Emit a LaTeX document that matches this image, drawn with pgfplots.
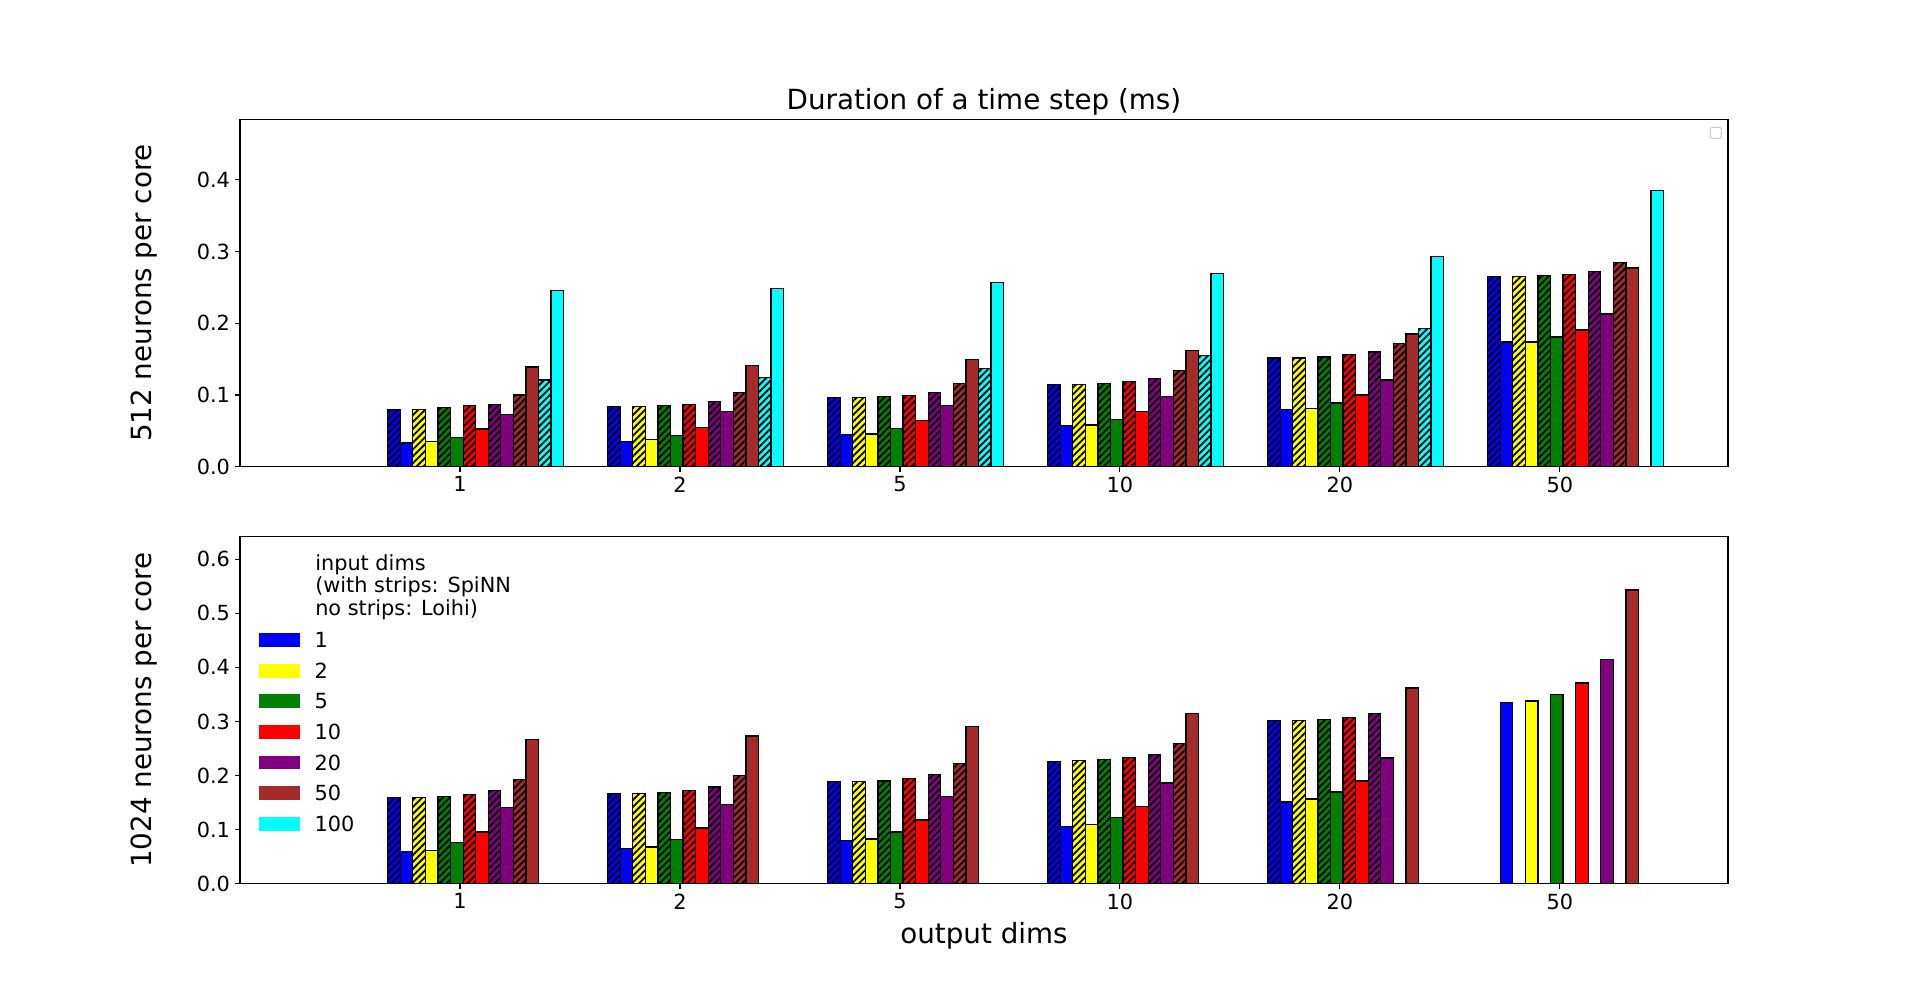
\documentclass[border=0pt]{standalone}
\usepackage{fontspec}
\setmainfont{DejaVu Sans}
\usepackage{pgfplots}
\pgfplotsset{compat=1.18}
\usepackage{pgfplotstable}
\usetikzlibrary{patterns.meta}

\definecolor{cblue}{rgb}{0,0,1}
\definecolor{cyellow}{rgb}{1,1,0}
\definecolor{cgreen}{HTML}{008000}
\definecolor{cred}{rgb}{1,0,0}
\definecolor{cpurple}{HTML}{800080}
\definecolor{cbrown}{HTML}{A52A2A}
\definecolor{ccyan}{rgb}{0,1,1}

\pgfplotstableread{
x h1 s1 h2 s2 h5 s5 h10 s10 h20 s20 h50 s50 h100 s100
0 0.080 0.033 0.080 0.035 0.082 0.041 0.085 0.0525 0.087 0.073 0.100 0.139 0.121 0.246
1 0.084 0.0353 0.084 0.038 0.0855 0.0437 0.0869 0.0548 0.091 0.077 0.1036 0.141 0.1245 0.2485
2 0.096 0.0446 0.096 0.0455 0.098 0.053 0.0994 0.064 0.103 0.085 0.116 0.149 0.137 0.257
3 0.1147 0.057 0.1147 0.058 0.116 0.0655 0.1185 0.0767 0.123 0.0976 0.134 0.1617 0.155 0.2695
4 0.1515 0.080 0.1515 0.081 0.153 0.0887 0.156 0.0999 0.160 0.1208 0.1714 0.185 0.1923 0.2927
5 0.2648 0.1737 0.2648 0.1737 0.266 0.1807 0.2676 0.1905 0.2718 0.2128 0.2843 0.2769 nan 0.3847
}\topdata

\pgfplotstableread{
x h1 s1 h2 s2 h5 s5 h10 s10 h20 s20 h50 s50
0 0.159 0.059 0.159 0.062 0.161 0.0758 0.1645 0.0955 0.172 0.1405 0.192 0.267
1 0.1663 0.0647 0.1663 0.0678 0.168 0.0813 0.172 0.1029 0.179 0.146 0.1996 0.273
2 0.1885 0.0795 0.1885 0.0825 0.190 0.0955 0.1947 0.118 0.2014 0.1608 0.2218 0.290
3 0.2255 0.1053 0.228 0.109 0.229 0.122 0.2329 0.1423 0.2384 0.186 0.2587 0.314
4 0.3012 0.151 0.3012 0.1565 0.303 0.1694 0.3068 0.1897 0.3148 0.2322 nan 0.3616
5 nan 0.3345 nan 0.3376 nan 0.3493 nan 0.3709 nan 0.414 nan 0.5427
}\botdata

\pgfplotsset{
  hbar/.style={ybar, bar width=0.0571429, bar shift=0pt, draw=black, line width=0.9pt, fill=#1,
    postaction={pattern={Lines[angle=45,distance=3.5pt,line width=1.3pt]}, pattern color=black}},
  sbar/.style={ybar, bar width=0.0571429, bar shift=0pt, draw=black, line width=0.9pt, fill=#1},
  sw/.style={fill=#1, draw=none, legend image code/.code={\fill[##1] (0pt,-5pt) rectangle (29.5pt,5pt); \path (40.1pt,0pt);}},
  common/.style={
    scale only axis, width=1071.36pt, height=250.24pt,
    xmin=-1, xmax=5.764, ymin=0,
    xtick={0,1,2,3,4,5}, xticklabels={1,2,5,10,20,50},
    tick align=outside, xtick pos=bottom, ytick pos=left,
    major tick length=3.5pt,
    every tick/.style={black, line width=0.8pt},
    axis line style={line width=0.8pt},
    tick label style={font=\fontsize{15}{18}\selectfont},
    xticklabel style={anchor=north, inner sep=0pt, yshift=-3.5pt},
    yticklabel style={anchor=east, inner sep=0pt, xshift=-3.5pt},
    label style={font=\fontsize{20}{24}\selectfont},
    ylabel style={at={(axis description cs:-0.05918,0.5)}, anchor=base},
  },
}

\newcommand{\hatchbar}[4]{\addplot[hbar=#3, forget plot] table[x expr=\thisrow{x}+#4, y=#2] {#1};}
\newcommand{\solidbar}[4]{\addplot[sbar=#3, forget plot] table[x expr=\thisrow{x}+#4, y=#2] {#1};}

\begin{document}
\begin{tikzpicture}
\path[use as bounding box] (0,0) rectangle (1382.4pt,714.96pt);

\begin{axis}[common,
  at={(172.8pt,378.93pt)}, anchor=south west,
  ymax=0.4844,
  ytick={0,0.1,0.2,0.3,0.4}, yticklabels={0.0,0.1,0.2,0.3,0.4},
  ylabel={512 neurons per core},
  title={Duration of a time step (ms)},
  title style={at={(axis description cs:0.5,1)}, anchor=base, yshift=1.2pt, font=\fontsize{20}{24}\selectfont},
]
\hatchbar{\topdata}{h1}{cblue}{-0.3}
\solidbar{\topdata}{s1}{cblue}{-0.2428571}
\hatchbar{\topdata}{h2}{cyellow}{-0.1857143}
\solidbar{\topdata}{s2}{cyellow}{-0.1285714}
\hatchbar{\topdata}{h5}{cgreen}{-0.0714286}
\solidbar{\topdata}{s5}{cgreen}{-0.0142857}
\hatchbar{\topdata}{h10}{cred}{0.0428571}
\solidbar{\topdata}{s10}{cred}{0.1}
\hatchbar{\topdata}{h20}{cpurple}{0.1571429}
\solidbar{\topdata}{s20}{cpurple}{0.2142857}
\hatchbar{\topdata}{h50}{cbrown}{0.2714286}
\solidbar{\topdata}{s50}{cbrown}{0.3285714}
\hatchbar{\topdata}{h100}{ccyan}{0.3857143}
\solidbar{\topdata}{s100}{ccyan}{0.4428571}
\node[draw=black!20, fill=white, rounded corners=1.5pt, minimum size=8pt, inner sep=0pt, line width=0.8pt, anchor=north east] at (axis description cs:0.996,0.978) {};
\end{axis}

\begin{axis}[common,
  at={(172.8pt,78.65pt)}, anchor=south west,
  ymax=0.6423,
  ytick={0,0.1,0.2,0.3,0.4,0.5,0.6}, yticklabels={0.0,0.1,0.2,0.3,0.4,0.5,0.6},
  ylabel={1024 neurons per core},
  xlabel={output dims},
  xlabel style={at={(axis description cs:0.5,0)}, anchor=base, yshift=-43pt},
  legend style={at={(axis description cs:0.01277,0.7223)}, anchor=north west, draw=none, fill=none,
    font=\fontsize{15}{18}\selectfont, inner sep=0pt, outer sep=0pt, row sep=11.1pt, column sep=0pt,
    nodes={inner sep=0pt, text height=10.9pt, text depth=0pt}},
  legend cell align=left,
]
\hatchbar{\botdata}{h1}{cblue}{-0.3}
\solidbar{\botdata}{s1}{cblue}{-0.2428571}
\hatchbar{\botdata}{h2}{cyellow}{-0.1857143}
\solidbar{\botdata}{s2}{cyellow}{-0.1285714}
\hatchbar{\botdata}{h5}{cgreen}{-0.0714286}
\solidbar{\botdata}{s5}{cgreen}{-0.0142857}
\hatchbar{\botdata}{h10}{cred}{0.0428571}
\solidbar{\botdata}{s10}{cred}{0.1}
\hatchbar{\botdata}{h20}{cpurple}{0.1571429}
\solidbar{\botdata}{s20}{cpurple}{0.2142857}
\hatchbar{\botdata}{h50}{cbrown}{0.2714286}
\solidbar{\botdata}{s50}{cbrown}{0.3285714}
\addlegendimage{sw=cblue}\addlegendentry{1}
\addlegendimage{sw=cyellow}\addlegendentry{2}
\addlegendimage{sw=cgreen}\addlegendentry{5}
\addlegendimage{sw=cred}\addlegendentry{10}
\addlegendimage{sw=cpurple}\addlegendentry{20}
\addlegendimage{sw=cbrown}\addlegendentry{50}
\addlegendimage{sw=ccyan}\addlegendentry{100}
\node[anchor=base west, inner sep=0pt, font=\fontsize{15}{18}\selectfont] at (axis description cs:0.0504,0.9007) {input dims};
\node[anchor=base west, inner sep=0pt, font=\fontsize{15}{18}\selectfont] at (axis description cs:0.0504,0.8366) {(with strips: SpiNN};
\node[anchor=base west, inner sep=0pt, font=\fontsize{15}{18}\selectfont] at (axis description cs:0.0504,0.7704) {no strips: Loihi)};
\end{axis}
\end{tikzpicture}
\end{document}
